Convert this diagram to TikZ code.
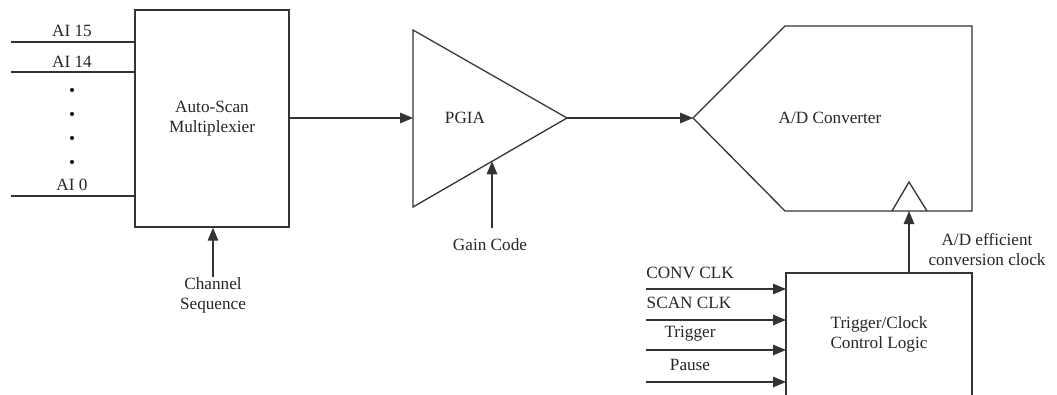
\documentclass[tikz,border=0pt]{standalone}
\usepackage{fontspec}
\setmainfont{Liberation Serif}
\usetikzlibrary{arrows.meta}
\begin{document}
\begin{tikzpicture}[x=1pt,y=-1pt,
  every node/.style={font=\fontsize{17.2}{20.5}\selectfont, text=black!85, inner sep=0pt},
  wire/.style={line width=1.3pt, draw=black!80},
  arr/.style={wire, -{Triangle[length=13pt,width=10.5pt]}},
  blk/.style={draw=black!80, line width=1.4pt, rectangle, align=center},
  lbl/.style={align=center}]
\useasboundingbox (0,0) rectangle (1057,394);
\fill[white] (0,0) rectangle (1057,394);
\clip (0,0) rectangle (1057,394);

% Multiplexer
\node[blk, minimum width=154pt, minimum height=217pt] (mux) at (212,118.5) {Auto-Scan\\Multiplexier};
\coordinate (i15) at (11,42);
\coordinate (i14) at (11,72);
\coordinate (i0) at (11,196);
\draw[wire] (i15) -- (i15 -| mux.west);
\draw[wire] (i14) -- (i14 -| mux.west);
\draw[wire] (i0) -- (i0 -| mux.west);
\node (l15) at (72,31) {AI 15};
\node (l14) at (72,62) {AI 14};
\node (l0) at (72,185) {AI 0};
\foreach \yy/\nm in {90/d1,114/d2,138/d3,162/d4}
  \fill[black!85] (72,\yy) circle (2.1) coordinate (\nm);
\node[lbl] (chs) at (213,295.5) {Channel\\Sequence};
\draw[arr] (chs.north) -- (chs.north |- mux.south);

% PGIA
\coordinate (pA) at (413,30);
\coordinate (pB) at (413,207);
\coordinate (pC) at (567,118);
\coordinate (pIn) at (413,118);
\coordinate (pGc) at (492,161.3);
\draw[wire, line join=miter] (pA) -- (pC) -- (pB) -- cycle;
\node (pgia) at (465,118) {PGIA};
\draw[arr] (mux.east |- pIn) -- (pIn);
\node (gain) at (490,245) {Gain Code};
\draw[arr] (492,228) -- (pGc);

% ADC
\coordinate (aTip) at (693,118);
\coordinate (aTL) at (785,26);
\coordinate (aTR) at (972,26);
\coordinate (aBR) at (972,211);
\coordinate (aBL) at (785,211);
\draw[wire] (aTip) -- (aTL) -- (aTR) -- (aBR) -- (aBL) -- cycle;
\node (adc) at (830,118) {A/D Converter};
\coordinate (ck1) at (892,211);
\coordinate (ck2) at (909,182);
\coordinate (ck3) at (927,211);
\draw[wire] (ck1) -- (ck2) -- (ck3);
\draw[arr] (pC) -- (aTip);

% Trigger/Clock control
\coordinate (tTL) at (786,273);
\coordinate (tTR) at (972,273);
\draw[wire] (786,400) -- (tTL) -- (tTR) -- (972,400);
\node[lbl] (trig) at (879,334.5) {Trigger/Clock\\Control Logic};
\coordinate (tOut) at (909,273);
\coordinate (adcClk) at (909,211);
\draw[arr] (tOut) -- (adcClk);
\node[lbl] (clkl) at (987,249.5) {A/D efficient\\conversion clock};

\foreach \yy/\txt/\lx/\ly/\nm in {289/CONV CLK/690/273/c1, 320/SCAN CLK/689/303/c2, 350/Trigger/690/334/c3, 382/Pause/690/365/c4}{
  \coordinate (s\nm) at (646,\yy);
  \draw[arr] (s\nm) -- (s\nm -| tTL);
  \node (n\nm) at (\lx,\ly) {\txt};
}
\end{tikzpicture}
\end{document}
